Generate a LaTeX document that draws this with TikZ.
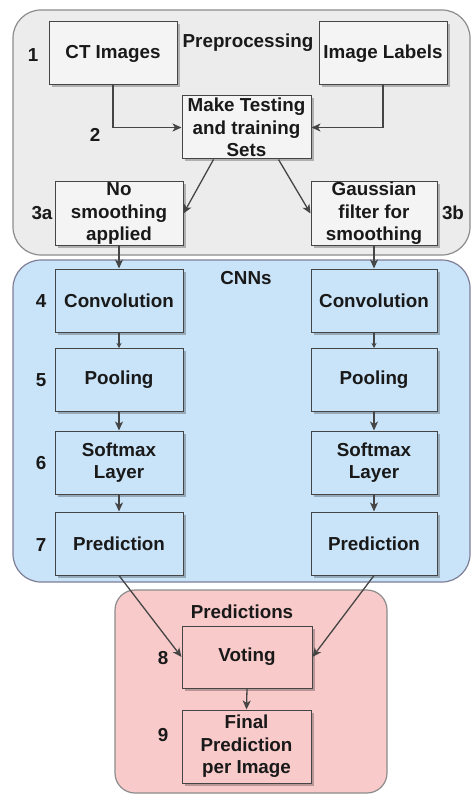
\documentclass[tikz,border=0pt]{standalone}
\usepackage{fontspec}
\setmainfont{Liberation Sans}
\usetikzlibrary{arrows.meta,shadows}
\definecolor{grayfill}{HTML}{ECECEC}
\definecolor{grayboxfill}{HTML}{F4F4F4}
\definecolor{bluefill}{HTML}{C9E3F8}
\definecolor{pinkfill}{HTML}{F9CACA}
\definecolor{edgecol}{HTML}{454545}
\definecolor{contborder}{HTML}{8C8C8C}
\begin{document}
\begin{tikzpicture}[x=1pt,y=-1pt,
  every node/.style={font=\fontsize{18.8}{22.5}\selectfont\bfseries, text=black!90},
  container/.style={draw=contborder, line width=1.2pt, rounded corners=28pt, inner sep=0pt},
  stepbox/.style={draw=edgecol, line width=1pt, minimum width=128pt, minimum height=63pt,
    align=center, inner sep=1pt,
    drop shadow={shadow xshift=2.5pt, shadow yshift=-2.5pt, fill=black, opacity=0.25}},
  conn/.style={draw=edgecol, line width=1.3pt, -{Stealth[length=9pt,width=8pt,inset=2.5pt]}},
  smallconn/.style={draw=edgecol, line width=1.3pt, -{Stealth[length=5pt,width=5pt,inset=1.5pt]}},
  num/.style={}
]
\useasboundingbox (0,0) rectangle (472,794);
\fill[white] (0,0) rectangle (472,794);

% containers
\node[container, fill=grayfill, minimum width=457pt, minimum height=245pt] (pre) at (241.5,132.5) {};
\node[container, fill=bluefill, draw=contborder!90!blue, minimum width=457pt, minimum height=322pt] (cnn) at (241.5,421) {};
\node[container, fill=pinkfill, rounded corners=20pt, minimum width=272pt, minimum height=203pt] (prd) at (251,691.5) {};

% titles
\node (tpre) at (248,43) {Preprocessing};
\node (tcnn) at (246,278) {CNNs};
\node (tprd) at (242,612) {Predictions};

% preprocessing boxes
\node[stepbox, fill=grayboxfill] (ct) at (113,53.5) {CT Images};
\node[stepbox, fill=grayboxfill] (il) at (383,53.5) {Image Labels};
\node[stepbox, fill=grayboxfill, minimum width=129pt] (mt) at (246.5,127.5) {Make Testing\\and training\\Sets};
\node[stepbox, fill=grayboxfill] (ns) at (119,213.5) {No\\smoothing\\applied};
\node[stepbox, fill=grayboxfill, minimum width=126pt] (gf) at (374,213.5) {Gaussian\\filter for\\smoothing};

% CNN boxes
\node[stepbox, fill=bluefill] (c1) at (119,300.5) {Convolution};
\node[stepbox, fill=bluefill] (p1) at (119,380) {Pooling};
\node[stepbox, fill=bluefill] (s1) at (119,462.5) {Softmax\\Layer};
\node[stepbox, fill=bluefill] (r1) at (119,543.5) {Prediction};
\node[stepbox, fill=bluefill, minimum width=126pt] (c2) at (374,300.5) {Convolution};
\node[stepbox, fill=bluefill, minimum width=126pt] (p2) at (374,380) {Pooling};
\node[stepbox, fill=bluefill, minimum width=126pt] (s2) at (374,462.5) {Softmax\\Layer};
\node[stepbox, fill=bluefill, minimum width=126pt] (r2) at (374,543.5) {Prediction};

% prediction boxes
\node[stepbox, fill=pinkfill, minimum width=130pt, minimum height=62pt] (vo) at (247,657) {Voting};
\node[stepbox, fill=pinkfill, minimum width=129pt, minimum height=73pt] (fp) at (246.5,746.5) {Final\\Prediction\\per Image};

% numbers
\node[num] (n1) at (33,55) {1};
\node[num] (n2) at (95,135) {2};
\node[num] (n3a) at (42,213) {3a};
\node[num] (n3b) at (453,213) {3b};
\node[num] (n4) at (41,301) {4};
\node[num] (n5) at (41,380) {5};
\node[num] (n6) at (41,463) {6};
\node[num] (n7) at (41,545) {7};
\node[num] (n8) at (163,658) {8};
\node[num] (n9) at (163,735) {9};

% connectors
\draw[conn] (ct.south) |- (mt.west);
\draw[conn] (il.south) |- (mt.east);
\draw[conn] ([xshift=-33pt]mt.south) -- (ns.east);
\draw[conn] ([xshift=32pt]mt.south) -- (gf.west);
\draw[conn] (ns.south) -- (c1.north);
\draw[conn] (gf.south) -- (c2.north);
\draw[smallconn] (c1.south) -- (p1.north);
\draw[smallconn] (c2.south) -- (p2.north);
\draw[conn] (p1.south) -- (s1.north);
\draw[conn] (p2.south) -- (s2.north);
\draw[conn] (s1.south) -- (r1.north);
\draw[conn] (s2.south) -- (r2.north);
\draw[conn] (r1.south) -- (vo.west);
\draw[conn] (r2.south) -- (vo.east);
\draw[conn] (vo.south) -- (fp.north);
\end{tikzpicture}
\end{document}
